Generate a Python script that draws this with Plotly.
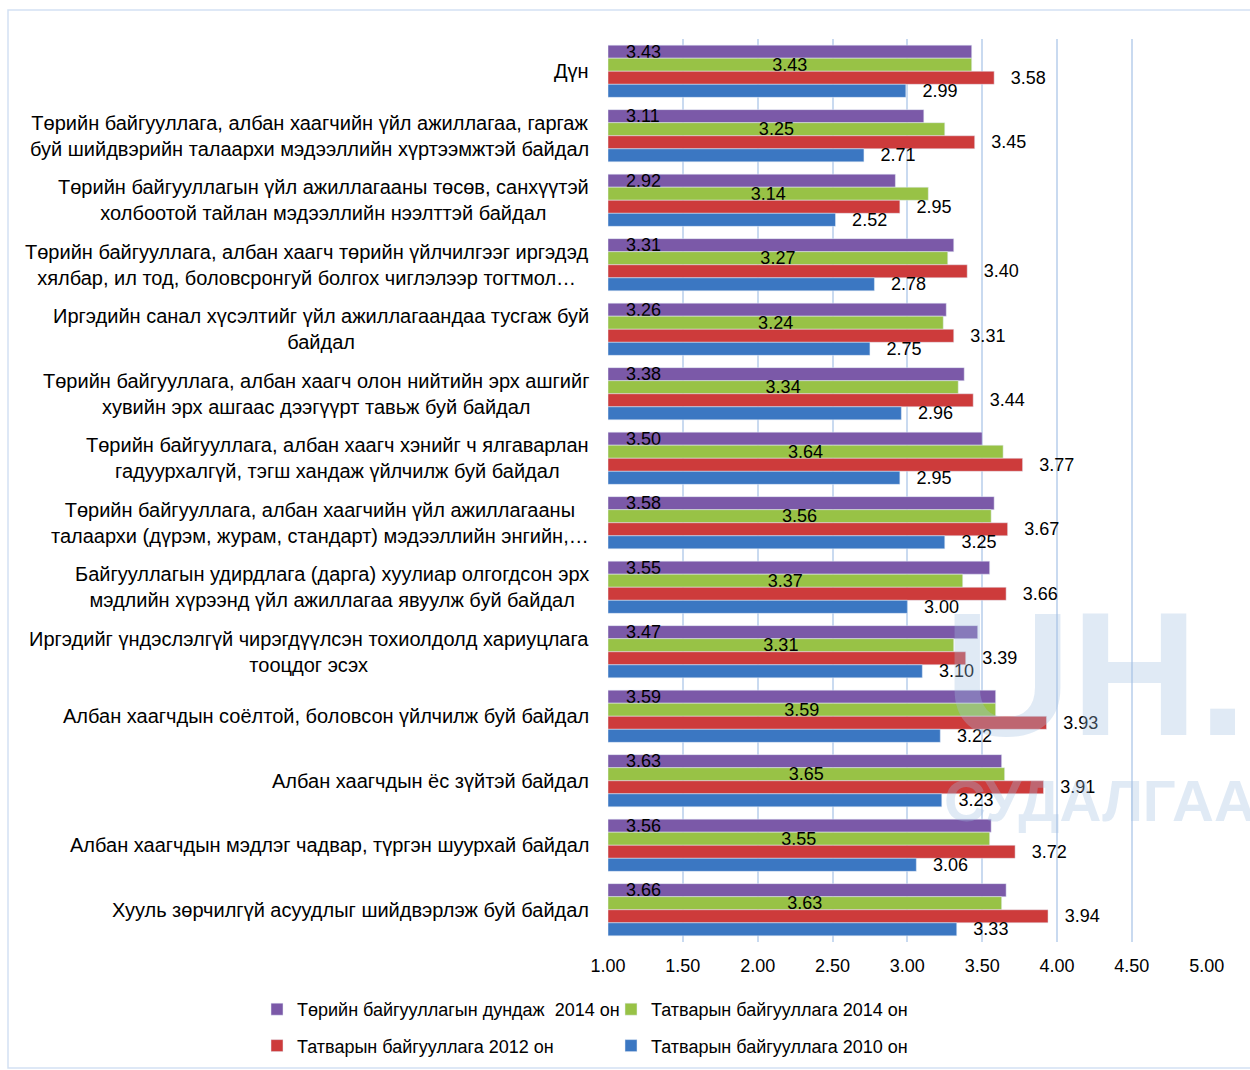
import plotly.graph_objects as go

categories = [
    "Дүн",
    "Төрийн байгууллага, албан хаагчийн үйл ажиллагаа, гаргаж<br>буй шийдвэрийн талаархи мэдээллийн хүртээмжтэй байдал",
    "Төрийн байгууллагын үйл ажиллагааны төсөв, санхүүтэй<br>холбоотой тайлан мэдээллийн нээлттэй байдал",
    "Төрийн байгууллага, албан хаагч төрийн үйлчилгээг иргэдэд<br>хялбар, ил тод, боловсронгуй болгох чиглэлээр тогтмол…",
    "Иргэдийн санал хүсэлтийг үйл ажиллагаандаа тусгаж буй<br>байдал",
    "Төрийн байгууллага, албан хаагч олон нийтийн эрх ашгийг<br>хувийн эрх ашгаас дээгүүрт тавьж буй байдал",
    "Төрийн байгууллага, албан хаагч хэнийг ч ялгаварлан<br>гадуурхалгүй, тэгш хандаж үйлчилж буй байдал",
    "Төрийн байгууллага, албан хаагчийн үйл ажиллагааны<br>талаархи (дүрэм, журам, стандарт) мэдээллийн энгийн,…",
    "Байгууллагын удирдлага (дарга) хуулиар олгогдсон эрх<br>мэдлийн хүрээнд үйл ажиллагаа явуулж буй байдал",
    "Иргэдийг үндэслэлгүй чирэгдүүлсэн тохиолдолд хариуцлага<br>тооцдог эсэх",
    "Албан хаагчдын соёлтой, боловсон үйлчилж буй байдал",
    "Албан хаагчдын ёс зүйтэй байдал",
    "Албан хаагчдын мэдлэг чадвар, түргэн шуурхай байдал",
    "Хууль зөрчилгүй асуудлыг шийдвэрлэж буй байдал",
]

state_avg_2014 = [3.43, 3.11, 2.92, 3.31, 3.26, 3.38, 3.50, 3.58, 3.55, 3.47, 3.59, 3.63, 3.56, 3.66]
tax_2014 = [3.43, 3.25, 3.14, 3.27, 3.24, 3.34, 3.64, 3.56, 3.37, 3.31, 3.59, 3.65, 3.55, 3.63]
tax_2012 = [3.58, 3.45, 2.95, 3.40, 3.31, 3.44, 3.77, 3.67, 3.66, 3.39, 3.93, 3.91, 3.72, 3.94]
tax_2010 = [2.99, 2.71, 2.52, 2.78, 2.75, 2.96, 2.95, 3.25, 3.00, 3.10, 3.22, 3.23, 3.06, 3.33]

series_names = [
    "Төрийн байгууллагын дундаж  2014 он",
    "Татварын байгууллага 2014 он",
    "Татварын байгууллага 2012 он",
    "Татварын байгууллага 2010 он",
]
axis_min = 1.0
axis_max = 5.0
tick_vals = [1.0, 1.5, 2.0, 2.5, 3.0, 3.5, 4.0, 4.5, 5.0]
tick_text = ["1.00", "1.50", "2.00", "2.50", "3.00", "3.50", "4.00", "4.50", "5.00"]

FONT = "Liberation Sans, Arial, sans-serif"
colors = ["#7B59A8", "#98C246", "#CD3B3B", "#3B77C2"]

W, H = 1250, 1070
ml, mr, mt, mb = 608, 43, 39, 128
pw, ph = W - ml - mr, H - mt - mb


def px_x(p):
    return (p - ml) / pw


def px_y(p):
    return (H - mb - p) / ph


fig = go.Figure()


def add_series(vals, name, color, legend, position, prefix, anchor=None):
    kw = dict(insidetextanchor=anchor) if anchor else {}
    fig.add_trace(go.Bar(
        orientation="h", y=categories,
        base=[axis_min] * len(vals), x=[v - axis_min for v in vals],
        text=[f"{prefix}{v:.2f}" for v in vals], texttemplate="%{text}",
        textposition=position, name=name, marker_color=color,
        legend=legend, legendgroup=name,
        cliponaxis=False, constraintext="none", textangle=0,
        textfont=dict(size=18, color="black", family=FONT),
        hovertemplate="%{y}: %{text}<extra>" + name + "</extra>", **kw))


add_series(state_avg_2014, series_names[0], colors[0], "legend", "inside", "   ", "start")
add_series(tax_2014, series_names[1], colors[1], "legend2", "inside", "", "middle")
add_series(tax_2012, series_names[2], colors[2], "legend", "outside", "  \u2009")
add_series(tax_2010, series_names[3], colors[3], "legend2", "outside", "  \u2009")

annotations = []
for c in categories:
    annotations.append(dict(x=0, xref="paper", y=c, yref="y", text=c, showarrow=False,
                            xanchor="right", xshift=-17, align="center",
                            font=dict(size=20, color="black", family=FONT)))

# faint site watermark (drawn over the bars, as in the source image)
WM = "rgba(160,190,225,0.33)"
annotations.append(dict(x=px_x(942), xref="paper", y=px_y(574), yref="paper", text="<b>UH.M</b>",
                        showarrow=False, xanchor="left", yanchor="top",
                        font=dict(size=176, color=WM, family=FONT)))
annotations.append(dict(x=px_x(942), xref="paper", y=px_y(766), yref="paper", text="<b>СУДАЛГААНЫ</b>",
                        showarrow=False, xanchor="left", yanchor="top",
                        font=dict(size=58, color=WM, family=FONT)))

legend_style = dict(xanchor="left", yanchor="top", orientation="v",
                    traceorder="grouped", tracegroupgap=10, bgcolor="rgba(0,0,0,0)",
                    font=dict(size=18, color="black", family=FONT))

fig.update_layout(
    width=W, height=H,
    margin=dict(l=ml, r=mr, t=mt, b=mb, pad=0, autoexpand=False),
    paper_bgcolor="white", plot_bgcolor="white",
    font=dict(family=FONT, size=18, color="black"),
    barmode="group", bargap=0.19, bargroupgap=0,
    xaxis=dict(range=[axis_min, axis_max + 0.002], tickvals=tick_vals, ticktext=tick_text,
               showgrid=True, gridcolor="#C9DAF0", gridwidth=1.5,
               zeroline=False, showline=False, ticks="", ticklabelstandoff=11,
               tickfont=dict(size=18, color="black", family=FONT)),
    yaxis=dict(autorange="reversed", showticklabels=False, showgrid=False,
               zeroline=False, showline=False, ticks=""),
    legend=dict(x=px_x(257), y=px_y(991), **legend_style),
    legend2=dict(x=px_x(611), y=px_y(991), **legend_style),
    annotations=annotations,
    shapes=[dict(type="rect", xref="paper", yref="paper",
                 x0=px_x(8), x1=px_x(1270), y0=px_y(1068), y1=px_y(10),
                 line=dict(color="#D3E1F3", width=1.5), layer="below")],
)

fig.write_html("out.html")
